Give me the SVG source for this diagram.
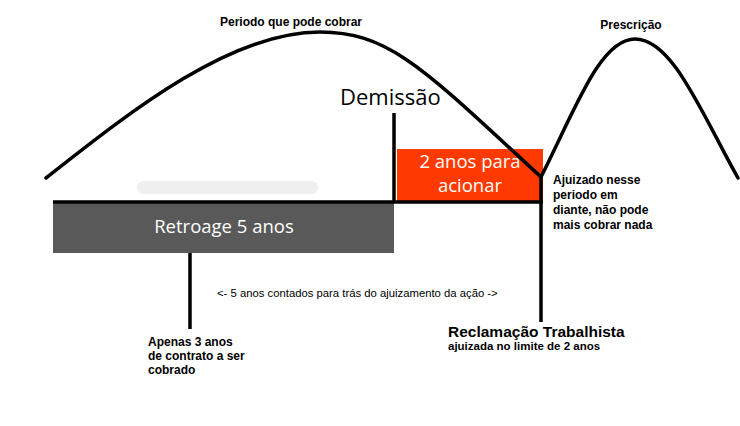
<svg xmlns="http://www.w3.org/2000/svg" width="740" height="426" viewBox="0 0 740 426">
<style>
.curve{fill:none;stroke:#000;stroke-width:3.5;stroke-linecap:round}
.ln{stroke:#000;stroke-width:3.5;fill:none}
.lbl{font-family:"Liberation Sans",Arial,sans-serif;font-weight:bold;font-size:12px;fill:#000}
.big{font-family:"Open Sans",sans-serif;fill:#fff;font-size:18.5px;text-anchor:middle}
</style>
<rect width="740" height="426" fill="#fff"/>
<rect x="137" y="181" width="181" height="13" rx="6" fill="#efefef"/>
<g id="periodo">
<text class="lbl" x="291" y="26" text-anchor="middle">Periodo que pode cobrar</text>
</g>
<g id="prescricao">
<text class="lbl" x="631" y="29" text-anchor="middle">Prescrição</text>
</g>
<g id="retroage">
<rect x="53" y="202" width="341" height="51" fill="#595959"/>
<text class="big" x="224" y="233" font-size="20.5">Retroage 5 anos</text>
</g>
<g id="acionar">
<rect x="397" y="149" width="146" height="52" fill="#ff3a00"/>
<text class="big" x="470" y="168">2 anos para</text>
<text class="big" x="470" y="192">acionar</text>
</g>
<g id="demissao">
<text x="340" y="105" font-family="Open Sans,sans-serif" font-size="22" fill="#000">Demissão</text>
</g>
<g id="ajuizado">
<text class="lbl" x="553" y="184" font-size="12.5">Ajuizado nesse</text>
<text class="lbl" x="553" y="199" font-size="12.5">periodo em</text>
<text class="lbl" x="553" y="214" font-size="12.5">diante, não pode</text>
<text class="lbl" x="553" y="229" font-size="12.5">mais cobrar nada</text>
</g>
<g id="contados">
<text x="217" y="297" font-family="Liberation Sans,Arial,sans-serif" font-size="11.3" fill="#000">&lt;- 5 anos contados para trás do ajuizamento da ação -&gt;</text>
</g>
<g id="apenas">
<text class="lbl" x="148" y="346">Apenas 3 anos</text>
<text class="lbl" x="148" y="360">de contrato a ser</text>
<text class="lbl" x="148" y="374">cobrado</text>
</g>
<g id="reclamacao">
<text x="448" y="337" font-family="Liberation Sans,Arial,sans-serif" font-weight="bold" font-size="15.5" fill="#000">Reclamação Trabalhista</text>
<text x="448" y="350" font-family="Liberation Sans,Arial,sans-serif" font-weight="bold" font-size="11.5" fill="#000">ajuizada no limite de 2 anos</text>
</g>
<g id="connectors">
<path class="curve" d="M46,178 C130,112 230,32 320,32 C390,32 425,70 541,177"/>
<path class="curve" d="M541,177 C575,110 600,39 635,39 C672,39 700,110 738,178"/>
<line class="ln" x1="53" y1="202" x2="543" y2="202"/>
<line class="ln" x1="394" y1="113" x2="394" y2="202"/>
<line class="ln" x1="541" y1="176" x2="541" y2="322"/>
<line class="ln" x1="190" y1="253" x2="190" y2="329"/>
</g>
</svg>
